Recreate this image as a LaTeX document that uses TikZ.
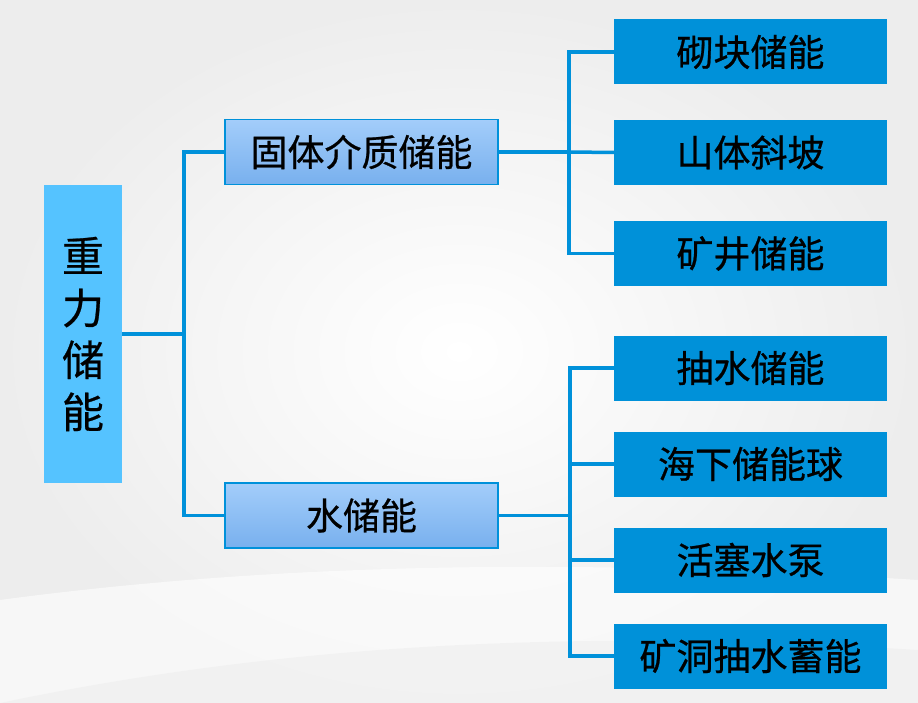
\documentclass[tikz,border=0pt]{standalone}
\usepackage{fontspec}
\newfontfamily\cjk[FakeBold=0.6]{Noto Sans CJK SC}
\usetikzlibrary{positioning}
\definecolor{linec}{HTML}{0091DA}
\definecolor{rightc}{HTML}{0091D9}
\definecolor{leftc}{HTML}{55C3FF}
\definecolor{midtop}{HTML}{A3CDFA}
\definecolor{midbot}{HTML}{78B0EE}
\definecolor{bgc}{HTML}{EDEDED}
\tikzset{
  conn/.style={draw=linec, line width=3.5pt},
  rightbox/.style={fill=rightc, minimum width=273pt, minimum height=65pt, inner sep=0pt, font=\cjk\fontsize{37}{40}\selectfont, text=black},
  midbox/.style={draw=linec, line width=1.2pt, top color=midtop, bottom color=midbot, minimum width=273pt, minimum height=65pt, inner sep=0pt, font=\cjk\fontsize{37}{40}\selectfont, text=black},
  leftbox/.style={fill=leftc, minimum width=78pt, minimum height=298pt, inner sep=0pt, align=center, font=\cjk\fontsize{42}{52}\selectfont, text=black}
}
\begin{document}
\begin{tikzpicture}[x=1pt,y=-1pt]
\useasboundingbox (0,0) rectangle (918,703);
\shade[inner color=white, outer color=bgc] (0,0) rectangle (918,703);
\fill[white, opacity=0.6] (0,600) .. controls (300,560) and (600,560) .. (918,580) -- (918,703) -- (0,703) -- cycle;
\fill[bgc, opacity=0.5] (0,703) .. controls (300,640) and (600,630) .. (918,650) -- (918,703) -- cycle;

\node[leftbox] (root) at (83,334) {重\\力\\储\\能};
\node[midbox] (m1) at (361.5,152) {固体介质储能};
\node[midbox] (m2) at (361.5,515.5) {水储能};

\node[rightbox] (r1) at (750.5,52) {砌块储能};
\node[rightbox] (r2) at (750.5,152.5) {山体斜坡};
\node[rightbox] (r3) at (750.5,253.5) {矿井储能};
\node[rightbox] (r4) at (750.5,368) {抽水储能};
\node[rightbox] (r5) at (750.5,464) {海下储能球};
\node[rightbox] (r6) at (750.5,560) {活塞水泵};
\node[rightbox] (r7) at (750.5,656) {矿洞抽水蓄能};

\coordinate (t) at (184,334);
\coordinate (ua) at (569,152);
\coordinate (la) at (570,515.5);

\draw[conn] (root.east |- t) -- (t);
\draw[conn] (t) |- (m1.west);
\draw[conn] (t) |- (m2.west);

\draw[conn] (m1.east) -- (ua);
\draw[conn] (ua) |- (r1.west);
\draw[conn] (ua) -- (r2.west);
\draw[conn] (ua) |- (r3.west);

\draw[conn] (m2.east) -- (la);
\draw[conn] (la) |- (r4.west);
\draw[conn] (la) |- (r5.west);
\draw[conn] (la) |- (r6.west);
\draw[conn] (la) |- (r7.west);
\end{tikzpicture}
\end{document}
